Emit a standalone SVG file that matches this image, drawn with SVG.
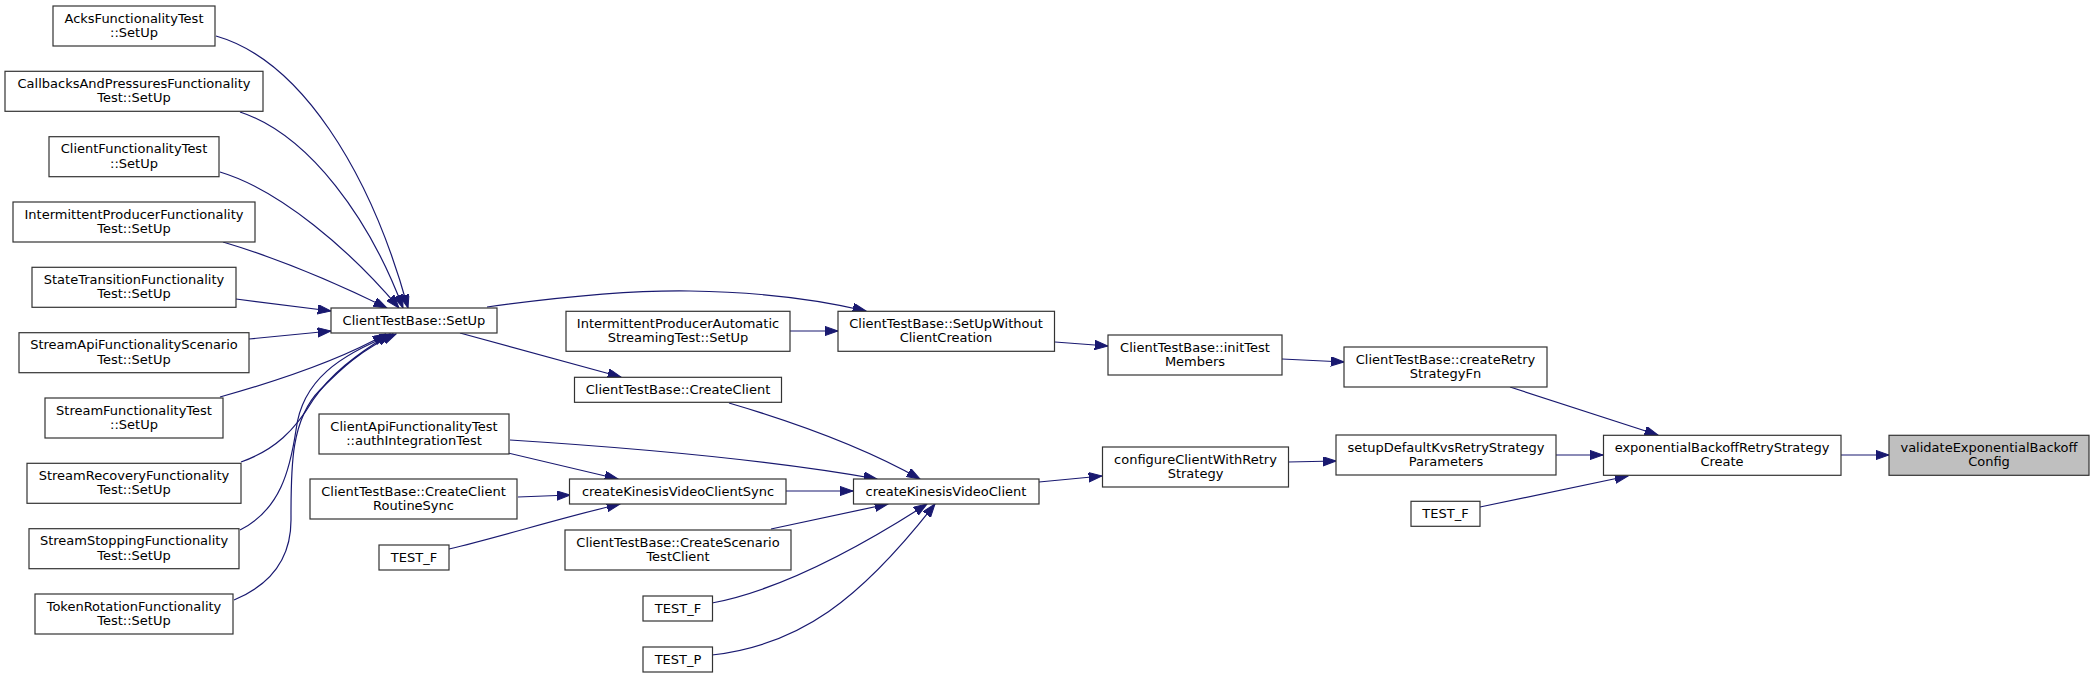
<svg xmlns="http://www.w3.org/2000/svg" width="2095" height="678" viewBox="0 0 2095 678">
<style>
.n rect{fill:#fff;stroke:#333;stroke-width:1.2}
.n.sel rect{fill:#bfbfbf}
text{font-family:"DejaVu Sans",Verdana,sans-serif;font-size:13px;fill:#000;text-anchor:middle}
.e path{fill:none;stroke:#191970;stroke-width:1.2;marker-end:url(#ah)}
</style>
<defs>
<marker id="ah" markerUnits="userSpaceOnUse" markerWidth="14" markerHeight="10" refX="13.3" refY="4.7" orient="auto">
<path d="M0,0 L13.3,4.7 L0,9.4 Z" fill="#191970" stroke="#191970" stroke-width="1"/>
</marker>
</defs>
<rect width="2095" height="678" fill="#fff"/>
<g id="edges" class="e">
<path d="M216,36 C300,60 370,170 408,308"/>
<path d="M240,112 C310,135 370,220 403,308"/>
<path d="M220,172 C280,190 350,250 399,308"/>
<path d="M223,242 C270,256 330,280 387,308"/>
<path d="M236,299 L331,311"/>
<path d="M249,339 L331,331"/>
<path d="M220,397 C270,383 340,360 386,334"/>
<path d="M241,462 C275,450 295,430 313,400 C330,375 355,355 390,334"/>
<path d="M240,530 C280,510 290,470 296,430 C302,380 340,355 393,334"/>
<path d="M234,600 C270,585 291,560 291,520 C291,470 290,420 320,390 C340,370 360,350 396,334"/>
<path d="M487,307 C560,297 630,290 690,291 C760,292 820,300 866,311"/>
<path d="M460,333 L621,377"/>
<path d="M790,331 L838,331"/>
<path d="M1055,342 L1108,346"/>
<path d="M1282,359 L1344,362"/>
<path d="M1510,387 L1658,435"/>
<path d="M729,403 C780,418 860,445 920,479"/>
<path d="M510,440 C620,447 760,458 877,479"/>
<path d="M508,453 L618,479"/>
<path d="M518,497 L570,495"/>
<path d="M449,549 C500,537 560,518 620,504"/>
<path d="M786,491 L853,491"/>
<path d="M771,529 L888,504"/>
<path d="M712,603 C770,592 840,560 927,504"/>
<path d="M712,655 C800,645 860,600 935,504"/>
<path d="M1039,482 L1102,476"/>
<path d="M1288,462 L1336,461"/>
<path d="M1556,455 L1603,455"/>
<path d="M1480,507 L1628,476"/>
<path d="M1841,455 L1889,455"/>
</g>
<g id="n_acks" class="n"><rect x="53" y="6" width="162" height="40"/><text x="134" y="22.5">AcksFunctionalityTest</text><text x="134" y="37">::SetUp</text></g>
<g id="n_callbacks" class="n"><rect x="5" y="71.3" width="258" height="40"/><text x="134" y="87.8">CallbacksAndPressuresFunctionality</text><text x="134" y="102.3">Test::SetUp</text></g>
<g id="n_clientfunc" class="n"><rect x="49" y="136.7" width="170" height="40"/><text x="134" y="153.2">ClientFunctionalityTest</text><text x="134" y="167.7">::SetUp</text></g>
<g id="n_intermfunc" class="n"><rect x="13" y="202" width="242" height="40"/><text x="134" y="218.5">IntermittentProducerFunctionality</text><text x="134" y="233">Test::SetUp</text></g>
<g id="n_statetrans" class="n"><rect x="32" y="267.3" width="204" height="40"/><text x="134" y="283.8">StateTransitionFunctionality</text><text x="134" y="298.3">Test::SetUp</text></g>
<g id="n_streamapi" class="n"><rect x="19" y="332.7" width="230" height="40"/><text x="134" y="349.2">StreamApiFunctionalityScenario</text><text x="134" y="363.7">Test::SetUp</text></g>
<g id="n_streamfunc" class="n"><rect x="45" y="398" width="178" height="40"/><text x="134" y="414.5">StreamFunctionalityTest</text><text x="134" y="429">::SetUp</text></g>
<g id="n_streamrec" class="n"><rect x="27" y="463.3" width="214" height="40"/><text x="134" y="479.8">StreamRecoveryFunctionality</text><text x="134" y="494.3">Test::SetUp</text></g>
<g id="n_streamstop" class="n"><rect x="29" y="528.7" width="210" height="40"/><text x="134" y="545.2">StreamStoppingFunctionality</text><text x="134" y="559.7">Test::SetUp</text></g>
<g id="n_tokenrot" class="n"><rect x="35" y="594" width="198" height="40"/><text x="134" y="610.5">TokenRotationFunctionality</text><text x="134" y="625">Test::SetUp</text></g>
<g id="n_setup" class="n"><rect x="331" y="308" width="166" height="25"/><text x="414" y="324.8">ClientTestBase::SetUp</text></g>
<g id="n_auth" class="n"><rect x="319" y="414" width="190" height="40"/><text x="414" y="430.5">ClientApiFunctionalityTest</text><text x="414" y="445">::authIntegrationTest</text></g>
<g id="n_routinesync" class="n"><rect x="310" y="479" width="207" height="40"/><text x="413.5" y="495.5">ClientTestBase::CreateClient</text><text x="413.5" y="510">RoutineSync</text></g>
<g id="n_testf1" class="n"><rect x="379" y="545" width="70" height="25"/><text x="414" y="561.8">TEST_F</text></g>
<g id="n_intermauto" class="n"><rect x="566" y="311.3" width="224" height="40"/><text x="678" y="327.8">IntermittentProducerAutomatic</text><text x="678" y="342.3">StreamingTest::SetUp</text></g>
<g id="n_createclient" class="n"><rect x="574.5" y="377.3" width="207" height="25"/><text x="678" y="394">ClientTestBase::CreateClient</text></g>
<g id="n_sync" class="n"><rect x="569.5" y="479" width="216.5" height="25"/><text x="678" y="495.8">createKinesisVideoClientSync</text></g>
<g id="n_scenario" class="n"><rect x="565" y="530" width="226" height="40"/><text x="678" y="546.5">ClientTestBase::CreateScenario</text><text x="678" y="561">TestClient</text></g>
<g id="n_testf2" class="n"><rect x="643" y="596" width="69.5" height="25"/><text x="678" y="612.8">TEST_F</text></g>
<g id="n_testp" class="n"><rect x="643" y="647" width="69.5" height="25"/><text x="678" y="663.8">TEST_P</text></g>
<g id="n_setupwo" class="n"><rect x="838" y="311.3" width="216.5" height="40"/><text x="946" y="327.8">ClientTestBase::SetUpWithout</text><text x="946" y="342.3">ClientCreation</text></g>
<g id="n_ckvc" class="n"><rect x="853.5" y="479" width="185.5" height="25"/><text x="946" y="495.8">createKinesisVideoClient</text></g>
<g id="n_inittest" class="n"><rect x="1108" y="335" width="174" height="40"/><text x="1195" y="351.5">ClientTestBase::initTest</text><text x="1195" y="366">Members</text></g>
<g id="n_configure" class="n"><rect x="1102.5" y="447" width="186" height="40"/><text x="1195.5" y="463.5">configureClientWithRetry</text><text x="1195.5" y="478">Strategy</text></g>
<g id="n_createretry" class="n"><rect x="1344" y="347" width="203" height="40"/><text x="1445.5" y="363.5">ClientTestBase::createRetry</text><text x="1445.5" y="378">StrategyFn</text></g>
<g id="n_setupdefault" class="n"><rect x="1336" y="435" width="220" height="40"/><text x="1446" y="451.5">setupDefaultKvsRetryStrategy</text><text x="1446" y="466">Parameters</text></g>
<g id="n_testf3" class="n"><rect x="1411" y="501.3" width="69" height="25"/><text x="1445.5" y="518">TEST_F</text></g>
<g id="n_expo" class="n"><rect x="1603.5" y="435.3" width="237.5" height="40"/><text x="1722" y="451.8">exponentialBackoffRetryStrategy</text><text x="1722" y="466.3">Create</text></g>
<g id="n_validate" class="n sel"><rect x="1889" y="435.3" width="200" height="40"/><text x="1989" y="451.8">validateExponentialBackoff</text><text x="1989" y="466.3">Config</text></g>
</svg>
